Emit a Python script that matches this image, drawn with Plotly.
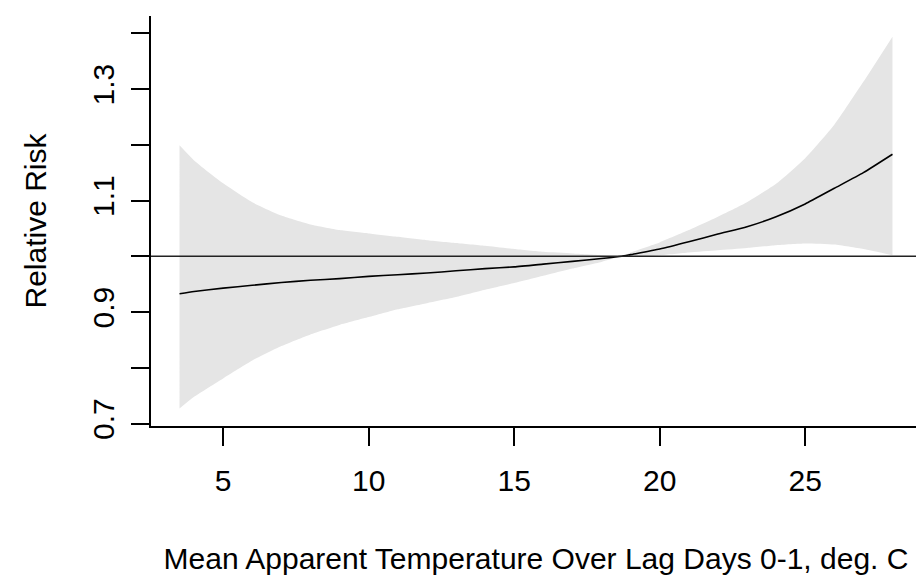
import plotly.graph_objects as go

temp = [3.5, 4, 5, 6, 7, 8, 9, 10, 11, 12, 13, 14, 15, 16, 17, 18, 18.7,
        19, 20, 21, 22, 23, 24, 25, 26, 27, 28]
rr = [0.933, 0.937, 0.943, 0.948, 0.953, 0.957, 0.960, 0.964, 0.967, 0.970,
      0.974, 0.978, 0.981, 0.986, 0.991, 0.996, 1.000,
      1.003, 1.013, 1.026, 1.040, 1.053, 1.071, 1.094, 1.122, 1.150, 1.183]
rr_high = [1.199, 1.172, 1.131, 1.097, 1.073, 1.057, 1.047, 1.041, 1.035, 1.029,
           1.024, 1.019, 1.013, 1.008, 1.005, 1.002, 1.000,
           1.007, 1.025, 1.047, 1.071, 1.097, 1.130, 1.176, 1.236, 1.313, 1.394]
rr_low = [0.727, 0.748, 0.781, 0.813, 0.839, 0.860, 0.877, 0.891, 0.905, 0.916,
          0.927, 0.940, 0.952, 0.965, 0.978, 0.990, 1.000,
          0.999, 1.002, 1.007, 1.011, 1.015, 1.020, 1.023, 1.021, 1.013, 1.002]

x_ticks = [5, 10, 15, 20, 25]
y_ticks = [0.7, 0.8, 0.9, 1.0, 1.1, 1.2, 1.3, 1.4]
y_ticktext = ["0.7", "", "0.9", "", "1.1", "", "1.3", ""]

FONT = "Liberation Sans, Arial, sans-serif"
BAND = "#E5E5E5"

fig = go.Figure()
fig.add_trace(go.Scatter(
    x=temp, y=rr_low, mode="lines",
    line=dict(width=0, color=BAND, shape="spline", smoothing=0.5),
    hoverinfo="skip", showlegend=False))
fig.add_trace(go.Scatter(
    x=temp, y=rr_high, mode="lines", fill="tonexty", fillcolor=BAND,
    line=dict(width=0, color=BAND, shape="spline", smoothing=0.5),
    hoverinfo="skip", showlegend=False))
fig.add_trace(go.Scatter(
    x=temp, y=rr, mode="lines",
    line=dict(color="black", width=1.6, shape="spline", smoothing=0.5),
    showlegend=False))

fig.add_shape(type="line", xref="paper", x0=0, x1=1, yref="y", y0=1, y1=1,
              line=dict(color="#222222", width=1.6))

# page body has an 8px default margin, so the figure is offset by 8px
fig.update_layout(
    width=916, height=574,
    margin=dict(l=143, r=3, t=8, b=156),
    paper_bgcolor="white", plot_bgcolor="white",
    font=dict(family=FONT, size=30, color="black"),
    showlegend=False,
    xaxis=dict(
        range=[2.52, 28.98], tickvals=x_ticks, ticks="outside", ticklen=18,
        tickwidth=1.5, tickcolor="black", showline=True, linecolor="black",
        linewidth=1.5, showgrid=False, zeroline=False, automargin=False,
        ticklabelstandoff=9,
        title=dict(text="Mean Apparent Temperature Over Lag Days 0-1, deg. C",
                   font=dict(size=30), standoff=52)),
    yaxis=dict(
        range=[0.6957, 1.431], tickvals=y_ticks, ticktext=y_ticktext,
        tickangle=-90, ticks="outside", ticklen=18, tickwidth=1.5,
        tickcolor="black", showline=True, linecolor="black", linewidth=1.5,
        showgrid=False, zeroline=False, automargin=False, ticklabelstandoff=5,
        title=dict(text="Relative Risk", font=dict(size=30), standoff=32)),
)

fig.write_html("out.html")
